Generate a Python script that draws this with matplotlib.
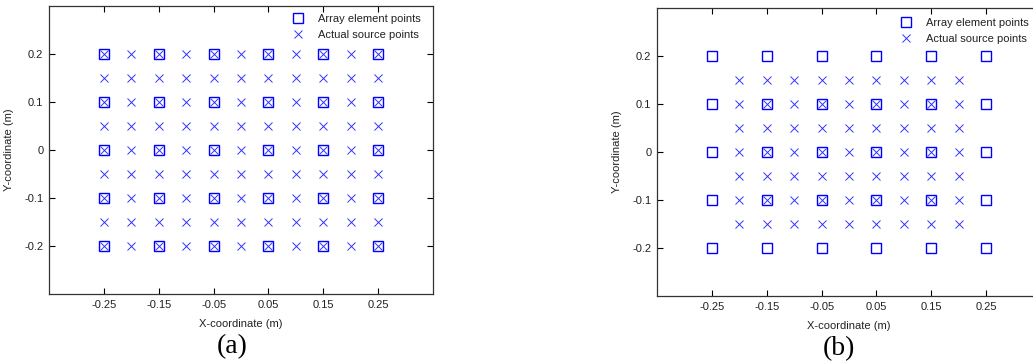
import matplotlib
matplotlib.use("Agg")
import matplotlib.pyplot as plt
import numpy as np

plt.rcParams["font.family"] = ["Liberation Sans", "DejaVu Sans"]

# array element grid (same for both panels)
array_x = [-0.25, -0.15, -0.05, 0.05, 0.15, 0.25]
array_y = [-0.2, -0.1, 0.0, 0.1, 0.2]

# actual source points, panel (a)
src_a_x = [-0.25, -0.2, -0.15, -0.1, -0.05, 0.0, 0.05, 0.1, 0.15, 0.2, 0.25]
src_a_y = [-0.2, -0.15, -0.1, -0.05, 0.0, 0.05, 0.1, 0.15, 0.2]

# actual source points, panel (b)
src_b_x = [-0.2, -0.15, -0.1, -0.05, 0.0, 0.05, 0.1, 0.15, 0.2]
src_b_y = [-0.15, -0.1, -0.05, 0.0, 0.05, 0.1, 0.15]

xticks = [-0.25, -0.15, -0.05, 0.05, 0.15, 0.25]
xtick_labels = ["-0.25", "-0.15", "-0.05", "0.05", "0.15", "0.25"]
yticks = [-0.2, -0.1, 0.0, 0.1, 0.2]
ytick_labels = ["-0.2", "-0.1", "0", "0.1", "0.2"]

W, H = 1033, 364
fig = plt.figure(figsize=(W / 100, H / 100), dpi=100)

txt_col = "#222222"
fs = 8


def panel(left_px, top_px, sx, sy, tag, tag_xy, leg_top):
    bottom_px = top_px + 288
    ax = fig.add_axes([left_px / W, (H - bottom_px) / H, 384 / W, 288 / H])
    ax_x, ax_y = np.meshgrid(array_x, array_y)
    s_x, s_y = np.meshgrid(sx, sy)
    ax.plot(ax_x.ravel(), ax_y.ravel(), linestyle="none", marker="s",
            markersize=6.5, markerfacecolor="none", markeredgecolor="#0000ff",
            markeredgewidth=1.0, label="Array element points")
    ax.plot(s_x.ravel(), s_y.ravel(), linestyle="none", marker="x",
            markersize=6.0, color="#3333ff", markeredgewidth=0.7,
            label="Actual source points")
    ax.set_xlim(-0.35, 0.35)
    ax.set_ylim(-0.3, 0.3)
    ax.set_xticks(xticks)
    ax.set_xticklabels(xtick_labels)
    ax.set_yticks(yticks)
    ax.set_yticklabels(ytick_labels)
    ax.tick_params(direction="in", length=4, width=0.8, top=True, right=True,
                   labelsize=fs, labelcolor=txt_col, pad=4)
    for sp in ax.spines.values():
        sp.set_linewidth(0.9)
        sp.set_color("#333333")
    ax.set_xlabel("X-coordinate (m)", fontsize=fs, color=txt_col)
    ax.set_ylabel("Y-coordinate (m)", fontsize=fs, color=txt_col)
    ax.xaxis.set_label_coords(0.5, -25 / 288)
    ax.yaxis.set_label_coords(-35 / 384, 0.5)
    leg = ax.legend(loc="upper left", bbox_to_anchor=(0.628, leg_top), frameon=False,
                    fontsize=fs, handlelength=1.5, handletextpad=1.05,
                    labelspacing=0.55, borderpad=0, borderaxespad=0)
    for t in leg.get_texts():
        t.set_color(txt_col)
    fig.text(tag_xy[0] / W, 1 - tag_xy[1] / H, tag, ha="center", va="center",
             fontsize=20, family="Liberation Serif")
    return ax


panel(49, 6, src_a_x, src_a_y, "(a)", (232, 347), 0.972)
panel(657, 8, src_b_x, src_b_y, "(b)", (839, 349), 0.965)

fig.savefig("out.png", dpi=100)
